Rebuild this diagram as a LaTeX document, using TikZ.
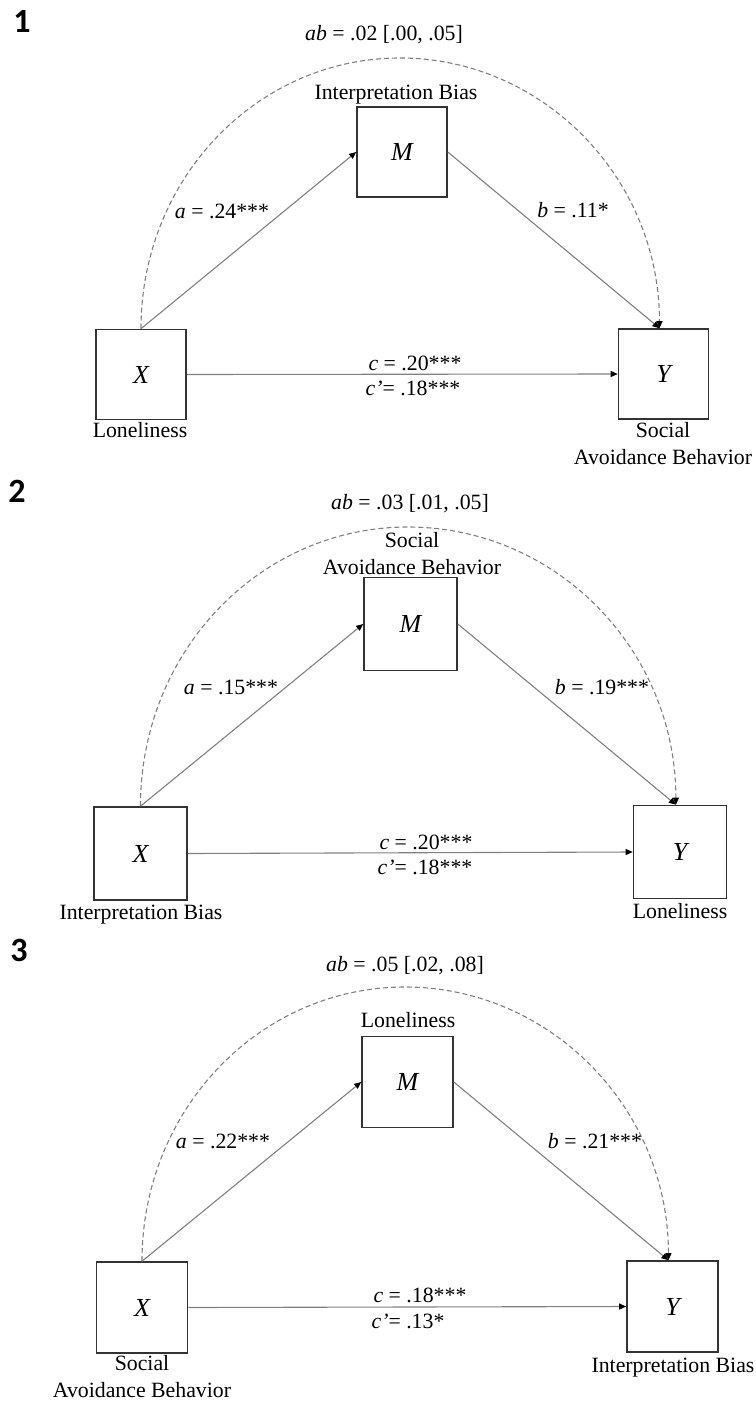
\documentclass[tikz,border=0pt]{standalone}
\usepackage{fontspec}
\setmainfont{Liberation Serif}
\newfontfamily\numfont{Carlito}
\usetikzlibrary{arrows.meta}
\begin{document}
\begin{tikzpicture}[x=1pt,y=-1pt,
  varbox/.style={draw=black!80, line width=1.6pt, minimum width=#1, minimum height=#1, inner sep=0pt,
    font=\fontsize{26}{30}\selectfont\itshape},
  lbl/.style={inner sep=0pt, anchor=base, font=\fontsize{21.8}{27}\selectfont},
  lbl2/.style={inner sep=0pt, align=center, anchor=north, font=\fontsize{21.8}{27}\selectfont},
  pnum/.style={inner sep=0pt, anchor=base, font=\numfont\bfseries\fontsize{34}{36}\selectfont},
  path/.style={draw=black!50, line width=1.1pt, -{Triangle[length=7pt,width=6pt,color=black]}},
  indirect/.style={draw=black!50, line width=1.1pt, dash pattern=on 5pt off 3pt,
    -{Triangle[length=7pt,width=6pt,color=black]}}]
\useasboundingbox (0,0) rectangle (755,1402);

% ---------- Model 1 ----------
\node[pnum] (n1) at (22,33) {1};
\node[varbox=90pt] (X1) at (141,374.5) {X};
\node[varbox=90pt] (M1) at (402,152) {M};
\node[varbox=90pt] (Y1) at (663.5,374) {Y};
\coordinate (t1) at (400,58);
\draw[indirect] (X1.north) .. controls +(0,-150) and +(-143,0) .. (t1)
  .. controls +(143,0) and +(0,-150) .. (Y1.95);
\draw[path] (X1.north) -- (M1.west);
\draw[path] (M1.east) -- (Y1.95);
\draw[path] (X1.east) -- (Y1.west);
\node[lbl] (ab1) at (384,41) {\textit{ab} = .02 [.00, .05]};
\node[lbl] (m1) at (396,100) {Interpretation Bias};
\node[lbl] (x1) at (140,437) {Loneliness};
\node[lbl2] (y1) at (663,422) {Social\\Avoidance Behavior};
\node[lbl] (a1) at (222,218) {\textit{a} = .24***};
\node[lbl] (b1) at (573,217) {\textit{b} = .11*};
\node[lbl] (c1) at (415,370) {\textit{c} = .20***};
\node[lbl] (cp1) at (413,395) {\textit{c’}= .18***};

% ---------- Model 2 ----------
\node[pnum] (n2) at (17,502) {2};
\node[varbox=93pt] (X2) at (140.5,853.5) {X};
\node[varbox=93pt] (M2) at (410.5,624) {M};
\node[varbox=93pt] (Y2) at (680,852) {Y};
\coordinate (t2) at (408,527);
\draw[indirect] (X2.north) .. controls +(0,-155) and +(-148,0) .. (t2)
  .. controls +(148,0) and +(0,-155) .. (Y2.95);
\draw[path] (X2.north) -- (M2.west);
\draw[path] (M2.east) -- (Y2.95);
\draw[path] (X2.east) -- (Y2.west);
\node[lbl] (ab2) at (410,509) {\textit{ab} = .03 [.01, .05]};
\node[lbl2] (m2) at (412,532) {Social\\Avoidance Behavior};
\node[lbl] (x2) at (141,919) {Interpretation Bias};
\node[lbl] (y2) at (680,918) {Loneliness};
\node[lbl] (a2) at (231,694) {\textit{a} = .15***};
\node[lbl] (b2) at (602,694) {\textit{b} = .19***};
\node[lbl] (c2) at (426,849) {\textit{c} = .20***};
\node[lbl] (cp2) at (425,874) {\textit{c’}= .18***};

% ---------- Model 3 ----------
\node[pnum] (n3) at (19,961) {3};
\node[varbox=91pt] (X3) at (142,1307.5) {X};
\node[varbox=91pt] (M3) at (407.5,1082) {M};
\node[varbox=91pt] (Y3) at (672.5,1306.5) {Y};
\coordinate (t3) at (405,987);
\draw[indirect] (X3.north) .. controls +(0,-152) and +(-145,0) .. (t3)
  .. controls +(145,0) and +(0,-152) .. (Y3.95);
\draw[path] (X3.north) -- (M3.west);
\draw[path] (M3.east) -- (Y3.95);
\draw[path] (X3.east) -- (Y3.west);
\node[lbl] (ab3) at (405,971) {\textit{ab} = .05 [.02, .08]};
\node[lbl] (m3) at (408,1027) {Loneliness};
\node[lbl2] (x3) at (142,1355) {Social\\Avoidance Behavior};
\node[lbl] (y3) at (673,1372) {Interpretation Bias};
\node[lbl] (a3) at (223,1148) {\textit{a} = .22***};
\node[lbl] (b3) at (595,1148) {\textit{b} = .21***};
\node[lbl] (c3) at (420,1302) {\textit{c} = .18***};
\node[lbl] (cp3) at (408,1328) {\textit{c’}= .13*};
\end{tikzpicture}
\end{document}
